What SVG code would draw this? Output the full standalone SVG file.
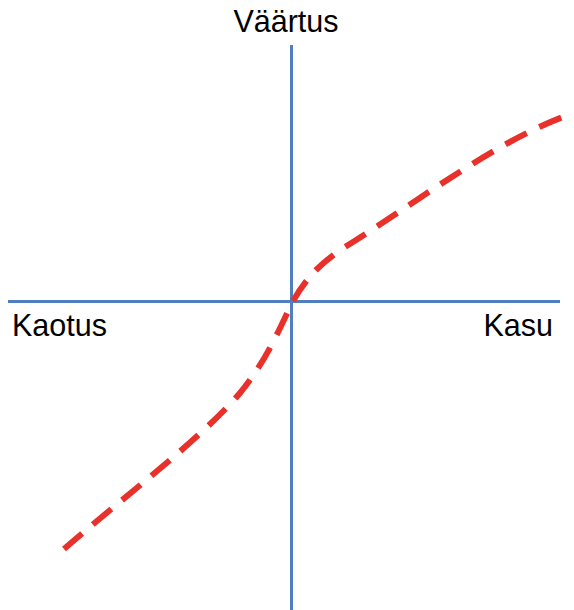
<svg xmlns="http://www.w3.org/2000/svg" width="574" height="610" viewBox="0 0 574 610">
<style>
.axis{stroke:#4F7FBF;stroke-width:3;fill:none}
.lbl{font-family:"Liberation Sans",Arial,sans-serif;font-size:30.5px;fill:#000}
.curve{stroke:#E8312A;stroke-width:6;fill:none;stroke-dasharray:24 14}
</style>
<rect width="574" height="610" fill="#fff"/>
<g id="axes">
<line class="axis" x1="291.5" y1="45" x2="291.5" y2="610"/>
<line class="axis" x1="8" y1="301.5" x2="560" y2="301.5"/>
</g>
<g id="labels">
<text class="lbl" x="286" y="32" text-anchor="middle">Väärtus</text>
<text class="lbl" x="12" y="336">Kaotus</text>
<text class="lbl" x="553" y="336" text-anchor="end">Kasu</text>
</g>
<g id="connectors">
<path class="curve" d="M64,549 C120,500 200,440 240,393 C265,363 279,330 291,305 C305,278 322,262 345,247 C420,200 500,138 574,113"/>
</g>
</svg>
